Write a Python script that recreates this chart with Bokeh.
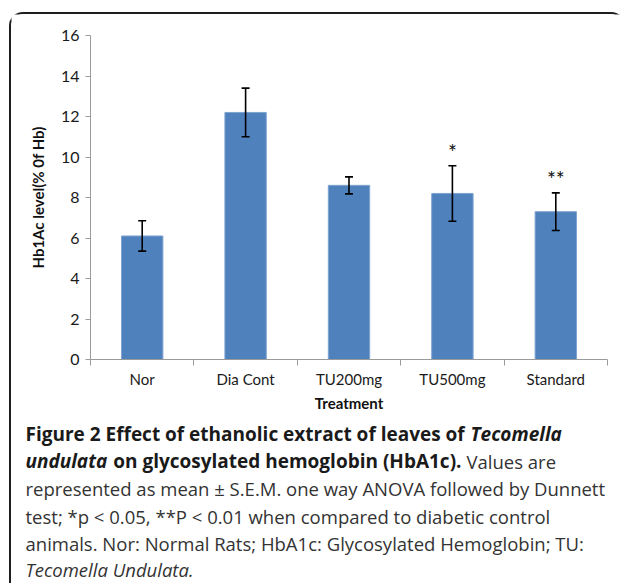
from bokeh.plotting import figure
from bokeh.models import (Range1d, FixedTicker, ColumnDataSource, Whisker, TeeHead, Label)
from bokeh.embed import file_html
from bokeh.resources import INLINE
from bokeh.core.properties import value

# ---- data ----
categories = ["Nor", "Dia Cont", "TU200mg", "TU500mg", "Standard"]
means = [6.1, 12.2, 8.6, 8.2, 7.3]
sems = [0.75, 1.2, 0.42, 1.37, 0.93]
significance = ["", "", "", "*", "**"]
y_ticks = [0, 2, 4, 6, 8, 10, 12, 14, 16]
y_label = "Hb1Ac level(% 0f Hb)"
x_label = "Treatment"

CHART_FONT = "Lato"
CAP_FONT = "Open Sans"
BAR = "#4F81BD"
AXIS = "#9a9a9a"

# ---- layout (pixels) ----
W, H = 616, 571
PAD_L, PAD_R = 79, 20          # frame px left of y axis / right of last category
PAD_T, PAD_B = 21, 226         # frame px above y=16 / below y=0
plot_w = W - PAD_L - PAD_R
plot_h = H - PAD_T - PAD_B
n = len(categories)
ymax = y_ticks[-1]
px_x = plot_w / n
px_y = plot_h / ymax

centers = [i + 0.5 for i in range(n)]
upper = [m + s for m, s in zip(means, sems)]
lower = [m - s for m, s in zip(means, sems)]
star_y = [u + 0.7 for u in upper]

src = ColumnDataSource(dict(x=centers, top=means, upper=upper, lower=lower,
                            star_y=star_y, star=significance))

p = figure(width=W, height=H, output_backend="svg", toolbar_location=None,
           x_range=Range1d(-PAD_L / px_x, n + PAD_R / px_x),
           y_range=Range1d(-PAD_B / px_y, ymax + PAD_T / px_y),
           min_border_left=0, min_border_right=0, min_border_top=0,
           min_border_bottom=0)
p.styles = {
    "margin-left": "9px",
    "margin-top": "12px",
    "border-top": "2px solid #1e1e1e",
    "border-left": "2px solid #1e1e1e",
    "border-right": "2px solid transparent",
    "border-top-left-radius": "14px",
    "border-top-right-radius": "14px",
}
p.background_fill_color = "white"
p.border_fill_color = "white"
p.outline_line_color = None
p.grid.visible = False

p.vbar(x="x", top="top", width=0.4, source=src, fill_color=BAR,
       line_color="#7fa3d1", line_width=1)

w = Whisker(base="x", upper="upper", lower="lower", source=src,
            line_color="black", line_width=1.6,
            upper_head=TeeHead(size=8, line_color="black", line_width=1.6),
            lower_head=TeeHead(size=8, line_color="black", line_width=1.6))
w.level = "overlay"
p.add_layout(w)

p.text(x="x", y="star_y", text="star", source=src, text_align="center",
       text_baseline="middle", text_font=value(CHART_FONT), text_font_size="21px",
       text_color="#111111")

# axes (drawn at the data origin, limited to the plotted span)
xa = p.xaxis[0]
xa.fixed_location = 0
xa.bounds = (0, n)
xa.ticker = FixedTicker(ticks=centers, minor_ticks=list(range(n + 1)))
xa.major_label_overrides = {c: name for c, name in zip(centers, categories)}
xa.major_tick_line_color = None
xa.major_tick_out = 0
xa.minor_tick_in = 0
xa.minor_tick_out = 6
xa.minor_tick_line_color = AXIS
xa.axis_line_color = AXIS
xa.major_label_standoff = 4
xa.major_label_text_font = CHART_FONT
xa.major_label_text_font_size = "15px"
xa.major_label_text_color = "#1a1a1a"
xa.axis_label = x_label
xa.axis_label_text_font = CHART_FONT
xa.axis_label_text_font_size = "15px"
xa.axis_label_text_font_style = "bold"
xa.axis_label_text_color = "#111111"
xa.axis_label_standoff = 3

ya = p.yaxis[0]
ya.fixed_location = 0
ya.bounds = (0, ymax)
ya.ticker = FixedTicker(ticks=y_ticks, minor_ticks=[])
ya.major_tick_in = 0
ya.major_tick_out = 5
ya.major_tick_line_color = AXIS
ya.minor_tick_line_color = None
ya.axis_line_color = AXIS
ya.major_label_standoff = 6
ya.major_label_text_font = CHART_FONT
ya.major_label_text_font_size = "16px"
ya.major_label_text_color = "#1a1a1a"
ya.axis_label = y_label
ya.axis_label_text_font = CHART_FONT
ya.axis_label_text_font_size = "15px"
ya.axis_label_text_font_style = "bold"
ya.axis_label_text_color = "#111111"
ya.axis_label_standoff = 11

# caption (screen units: x from frame left, y up from frame bottom)
BOLD_C, REG_C = "#1a1a1a", "#333333"
B_SIZE, R_SIZE = "19px", "18.5px"
segments = [
    (14, 152, "Figure 2 Effect of ethanolic extract of leaves of", "bold", "left", B_SIZE, BOLD_C),
    (459, 152, "Tecomella", "bold italic", "left", B_SIZE, BOLD_C),
    (14, 124.5, "undulata", "bold italic", "left", B_SIZE, BOLD_C),
    (450, 124.5, "on glycosylated hemoglobin (HbA1c).", "bold", "right", B_SIZE, BOLD_C),
    (455, 124.5, "Values are", "normal", "left", R_SIZE, REG_C),
    (14, 97, "represented as mean \u00b1 S.E.M. one way ANOVA followed by Dunnett", "normal", "left", R_SIZE, REG_C),
    (14, 69.5, "test; *p < 0.05, **P < 0.01 when compared to diabetic control", "normal", "left", R_SIZE, REG_C),
    (14, 42, "animals. Nor: Normal Rats; HbA1c: Glycosylated Hemoglobin; TU:", "normal", "left", R_SIZE, REG_C),
    (14, 16, "Tecomella Undulata.", "italic", "left", R_SIZE, REG_C),
]
for x, y, t, style, align, size, col in segments:
    p.add_layout(Label(x=x, y=y, x_units="screen", y_units="screen", text=t,
                       text_font=CAP_FONT, text_font_size=size,
                       text_font_style=style, text_align=align,
                       text_baseline="middle", text_color=col))

open("out.html", "w").write(file_html(p, INLINE))
